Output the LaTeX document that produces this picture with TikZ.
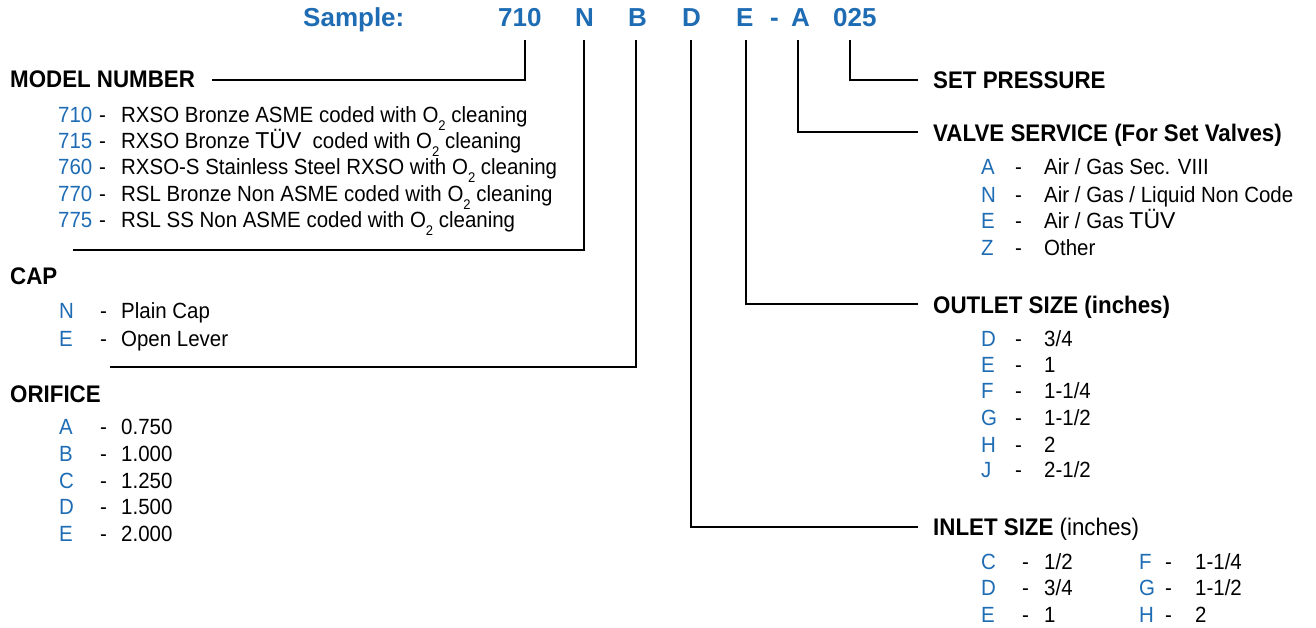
\documentclass[tikz,border=0pt]{standalone}
\usepackage{fontspec}
\setmainfont{Liberation Sans}[FakeStretch=0.93]
\newfontfamily\headfont{Liberation Sans}[FakeStretch=0.93]
\newfontfamily\plainfont{Liberation Sans}
\definecolor{codeblue}{RGB}{30,108,180}
\newcommand\subtwo{\raisebox{-0.32em}{\fontsize{14}{14}\selectfont 2}}
\newcommand\tuv{{\plainfont\fontsize{23}{26}\selectfont TÜV}}
\newcommand\entry[4]{\makebox[#1][l]{\color{codeblue}#3}\makebox[#2][l]{-}#4}
\begin{document}
\begin{tikzpicture}[x=1pt,y=-1pt,
  hdr/.style={anchor=base west, inner sep=0pt, text=codeblue, font=\plainfont\bfseries\fontsize{26}{30}\selectfont},
  ttl/.style={anchor=base west, inner sep=0pt, font=\headfont\bfseries\fontsize{24}{28}\selectfont},
  row/.style={anchor=base west, inner sep=0pt, font=\fontsize{22}{26}\selectfont},
  conn/.style={line width=2.6pt, line join=miter}]
\useasboundingbox (0,0) rectangle (1316,628);

% header
\node[hdr] (hs) at (303,27) {Sample:};
\node[hdr] (h710) at (498,27) {710};
\node[hdr] (hN) at (575,27) {N};
\node[hdr] (hB) at (628,27) {B};
\node[hdr] (hD) at (682,27) {D};
\node[hdr] (hE) at (736,27) {E};
\node[hdr] (hdash) at (770,27) {-};
\node[hdr] (hA) at (791,27) {A};
\node[hdr] (h025) at (833,27) {025};

% headings
\node[ttl] (mn) at (10,88) {MODEL NUMBER};
\node[ttl] (cap) at (10,284) {CAP};
\node[ttl] (ori) at (10,402) {ORIFICE};
\node[ttl] (sp) at (933,89) {SET PRESSURE};
\node[ttl] (vs) at (933,142) {VALVE SERVICE (For Set Valves)};
\node[ttl] (os) at (933,313) {OUTLET SIZE (inches)};
\node[ttl] (is) at (933,535) {INLET SIZE {\mdseries\fontspec{Liberation Sans}[FakeStretch=0.93](inches)}};

% model number list
\node[row] (m1) at (58,123) {\entry{41pt}{22pt}{710}{RXSO Bronze ASME coded with O\subtwo\ cleaning}};
\node[row] (m2) at (58,149) {\entry{41pt}{22pt}{715}{RXSO Bronze \tuv\ \ coded with O\subtwo\ cleaning}};
\node[row] (m3) at (58,175) {\entry{41pt}{22pt}{760}{RXSO-S Stainless Steel RXSO with O\subtwo\ cleaning}};
\node[row] (m4) at (58,202) {\entry{41pt}{22pt}{770}{RSL Bronze Non ASME coded with O\subtwo\ cleaning}};
\node[row] (m5) at (58,228) {\entry{41pt}{22pt}{775}{RSL SS Non ASME coded with O\subtwo\ cleaning}};

% cap list
\node[row] (c1) at (59,318) {\entry{41pt}{21pt}{N}{Plain Cap}};
\node[row] (c2) at (59,346) {\entry{41pt}{21pt}{E}{Open Lever}};

% orifice list
\node[row] (o1) at (59,434) {\entry{41pt}{21pt}{A}{0.750}};
\node[row] (o2) at (59,461) {\entry{41pt}{21pt}{B}{1.000}};
\node[row] (o3) at (59,488) {\entry{41pt}{21pt}{C}{1.250}};
\node[row] (o4) at (59,514) {\entry{41pt}{21pt}{D}{1.500}};
\node[row] (o5) at (59,541) {\entry{41pt}{21pt}{E}{2.000}};

% valve service list
\node[row] (v1) at (981,175) {\entry{34pt}{29pt}{A}{Air / Gas Sec. VIII}};
\node[row] (v2) at (981,203) {\entry{34pt}{29pt}{N}{Air / Gas / Liquid Non Code}};
\node[row] (v3) at (981,229) {\entry{34pt}{29pt}{E}{Air / Gas \tuv}};
\node[row] (v4) at (981,255) {\entry{34pt}{29pt}{Z}{Other}};

% outlet list
\node[row] (u1) at (981,346) {\entry{34pt}{29pt}{D}{3/4}};
\node[row] (u2) at (981,372) {\entry{34pt}{29pt}{E}{1}};
\node[row] (u3) at (981,398) {\entry{34pt}{29pt}{F}{1-1/4}};
\node[row] (u4) at (981,425) {\entry{34pt}{29pt}{G}{1-1/2}};
\node[row] (u5) at (981,452) {\entry{34pt}{29pt}{H}{2}};
\node[row] (u6) at (981,477) {\entry{34pt}{29pt}{J}{2-1/2}};

% inlet list
\node[row] (i1) at (981,569) {\entry{41pt}{22pt}{C}{1/2}};
\node[row] (i2) at (981,595) {\entry{41pt}{22pt}{D}{3/4}};
\node[row] (i3) at (981,622) {\entry{41pt}{22pt}{E}{1}};
\node[row] (i4) at (1139,569) {\entry{26pt}{30pt}{F}{1-1/4}};
\node[row] (i5) at (1139,595) {\entry{26pt}{30pt}{G}{1-1/2}};
\node[row] (i6) at (1139,622) {\entry{26pt}{30pt}{H}{2}};

% connector ends
\coordinate (t710) at (525,40);  \coordinate (e710) at (212,80);
\coordinate (tN) at (584,40);    \coordinate (eN) at (73,250);
\coordinate (tB) at (636,40);    \coordinate (eB) at (110,367);
\coordinate (tD) at (691,40);    \coordinate (eD) at (918,527);
\coordinate (tE) at (746,40);    \coordinate (eE) at (918,304);
\coordinate (tA) at (798,40);    \coordinate (eA) at (918,132);
\coordinate (t025) at (850,40);  \coordinate (e025) at (918,80);

\draw[conn] (t710) |- (e710);
\draw[conn] (tN) |- (eN);
\draw[conn] (tB) |- (eB);
\draw[conn] (tD) |- (eD);
\draw[conn] (tE) |- (eE);
\draw[conn] (tA) |- (eA);
\draw[conn] (t025) |- (e025);
\end{tikzpicture}
\end{document}
